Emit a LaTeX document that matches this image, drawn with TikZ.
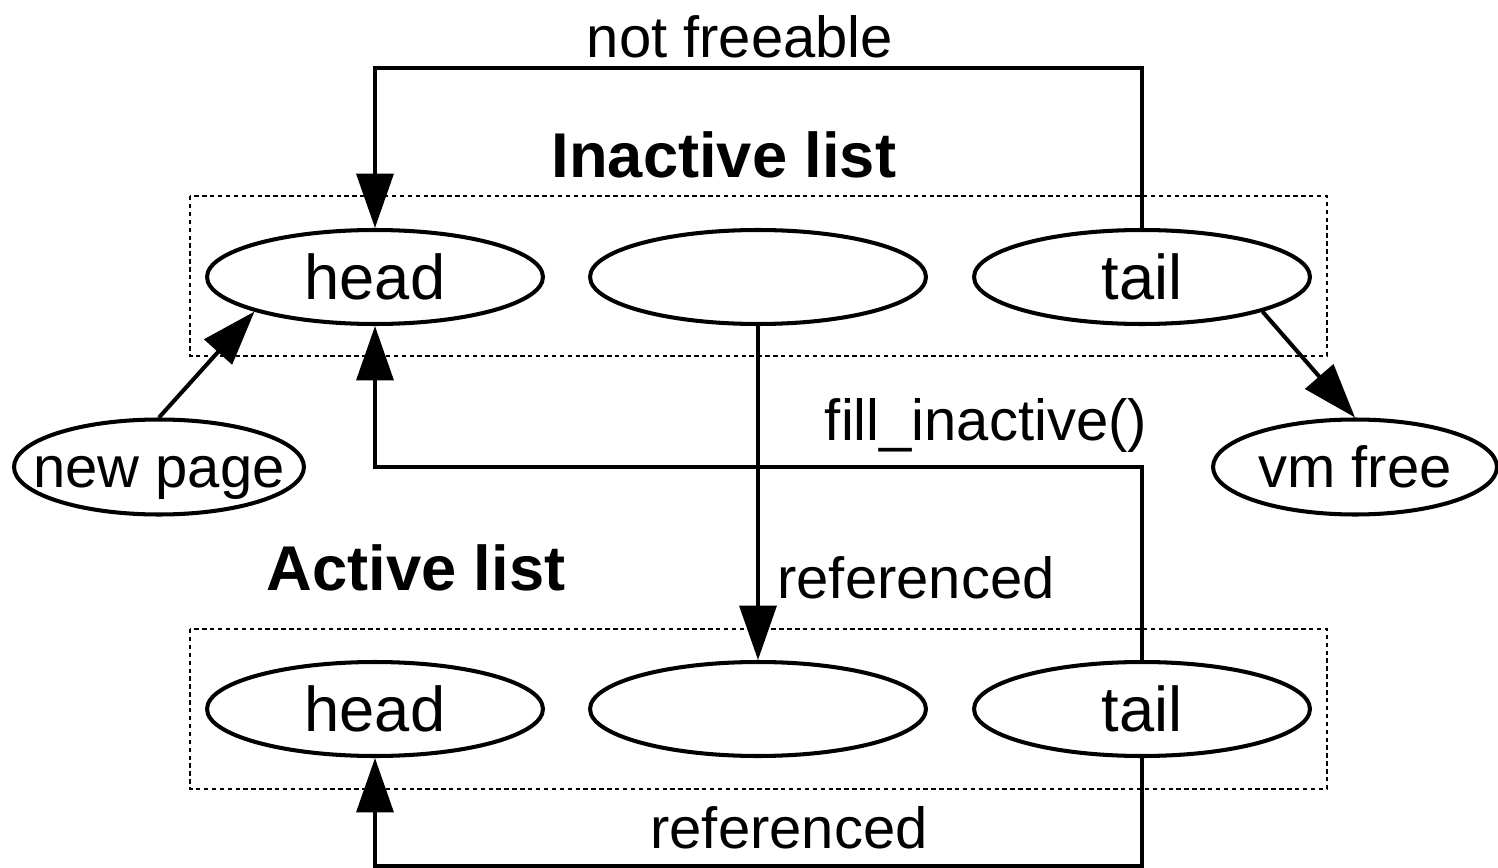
\documentclass[tikz,border=0pt]{standalone}
\usepackage{fontspec}
\setmainfont{Liberation Sans}
\usetikzlibrary{arrows.meta,shapes.geometric}
\tikzset{
  elem/.style={ellipse,draw,line width=2.3pt,minimum width=6.72cm,minimum height=1.88cm,inner sep=0pt,font=\fontsize{36}{40}\selectfont},
  side/.style={ellipse,draw,line width=2.3pt,minimum width=5.8cm,minimum height=1.9cm,inner sep=0pt},
  listbox/.style={draw,line width=1pt,dash pattern=on 2.5pt off 2pt},
  conn/.style={line width=2.3pt,-{Triangle[length=31pt,width=21pt]}},
  lbl/.style={font=\fontsize{33}{38}\selectfont,inner sep=0pt},
  title/.style={font=\fontsize{36}{40}\selectfont\bfseries,inner sep=0pt}
}
\begin{document}
\begin{tikzpicture}[x=0.02cm,y=-0.02cm]
\useasboundingbox (0,0) rectangle (1498,868);
% list boxes
\draw[listbox] (190,196) rectangle (1327,356);
\draw[listbox] (190,629) rectangle (1327,789);
% titles
\node[title] (tin) at (724,155) {Inactive list};
\node[title] (tac) at (416,568) {Active list};
% inactive list
\node[elem] (ih) at (375,277) {head};
\node[elem] (im) at (758,277) {};
\node[elem] (it) at (1142,277) {tail};
% active list
\node[elem] (ah) at (375,709) {head};
\node[elem] (am) at (758,709) {};
\node[elem] (at) at (1142,709) {tail};
% side nodes
\node[side] (np) at (159,467) {};
\node[side,minimum width=5.68cm] (vf) at (1355,467) {};
\node[lbl,anchor=base] (npt) at ([yshift=-0.42cm]np.center) {new page};
\node[lbl,anchor=base] (vft) at ([yshift=-0.42cm]vf.center) {vm free};
% corners
\coordinate (c1) at (1142,68);
\coordinate (c2) at (375,68);
\coordinate (c3) at (1142,467);
\coordinate (c4) at (375,467);
\coordinate (c5) at (1142,866);
\coordinate (c6) at (375,866);
% connectors
\draw[conn] (it.north) -- (c1) -- (c2) -- (ih.north);
\draw[conn] (at.north) -- (c3) -- (c4) -- (ih.south);
\draw[conn] (im.south) -- (am.north);
\draw[conn] (at.south) -- (c5) -- (c6) -- (ah.south);
\draw[conn] (np.north) -- (ih.196);
\draw[conn] (it.344) -- (vf.north);
% labels
\node[lbl] (l1) at (740,37) {not freeable};
\node[lbl] (l2) at (986,425) {fill\_inactive()};
\node[lbl] (l3) at (916,578) {referenced};
\node[lbl] (l4) at (789,828) {referenced};
\end{tikzpicture}
\end{document}
